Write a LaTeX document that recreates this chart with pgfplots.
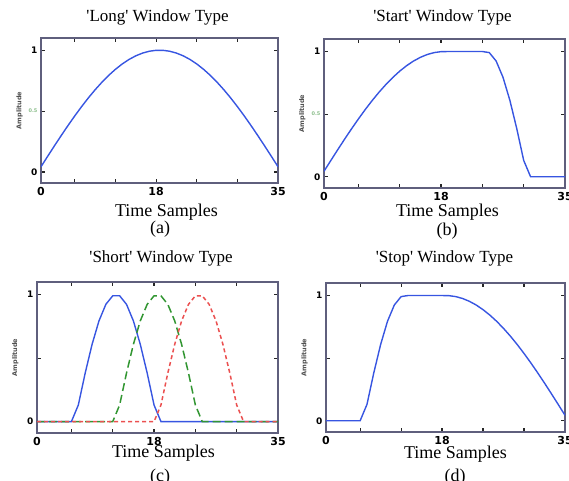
\documentclass[border=0pt]{standalone}
\usepackage{fontspec}
\setmainfont{Liberation Serif}[Ligatures=TeXOff]
\newfontfamily\tickfont{DejaVu Sans}
\usepackage{pgfplots}
\pgfplotsset{compat=1.18}

\definecolor{framec}{RGB}{95,95,125}
\definecolor{mblue}{RGB}{55,85,225}
\definecolor{mgreen}{RGB}{50,150,50}
\definecolor{mred}{RGB}{235,80,80}
\definecolor{faint}{RGB}{140,190,140}
\definecolor{ylab}{RGB}{80,80,80}

% one MATLAB-style window panel
\pgfplotsset{win/.style={
    scale only axis,
    xmin=0, xmax=35, ymin=-0.09, ymax=1.1,
    xtick={0,5,11,17,23,29,35},
    xticklabels={0,,,18,,,35},
    ytick={0,0.5,1},
    tick align=inside,
    major tick length=4pt,
    tick style={line width=1.2pt, color=black!85},
    axis line style={line width=1.6pt, color=framec},
    x tick label style={font=\tickfont\bfseries\fontsize{11}{11}\selectfont, yshift=-1pt},
    y tick label style={font=\tickfont\bfseries\fontsize{9}{9}\selectfont},
    ylabel={Amplitude},
    ylabel style={font=\tickfont\bfseries\fontsize{6.5}{7}\selectfont, color=ylab,
                  at={(axis description cs:-0.09,0.5)}, anchor=center},
    title style={font=\fontsize{17}{20}\selectfont, anchor=base, at={(0.5,1)}},
    xlabel={Time Samples},
    xlabel style={font=\fontsize{18}{20}\selectfont, anchor=base, at={(0.5,0)}},
  }}

\begin{document}
\begin{tikzpicture}
\path[use as bounding box] (0,0) rectangle (569pt,480pt);

% (a) Long
\begin{axis}[win, at={(41pt,297pt)}, anchor=south west, width=237pt, height=145pt,
    yticklabels={0,{\color{faint}\fontsize{5}{5}\selectfont 0.5},1},
    title={'Long' Window Type}, title style={yshift=10pt, xshift=-2pt},
    xlabel style={yshift=-33pt, xshift=7pt}]
\addplot[mblue, line width=1.4pt] coordinates {
(0,0.0436) (1,0.1305) (2,0.2164) (3,0.3007) (4,0.3827) (5,0.4617)
(6,0.5373) (7,0.6088) (8,0.6756) (9,0.7373) (10,0.7934) (11,0.8434)
(12,0.8870) (13,0.9239) (14,0.9537) (15,0.9763) (16,0.9914) (17,0.9990)
(18,0.9990) (19,0.9914) (20,0.9763) (21,0.9537) (22,0.9239) (23,0.8870)
(24,0.8434) (25,0.7934) (26,0.7373) (27,0.6756) (28,0.6088) (29,0.5373)
(30,0.4617) (31,0.3827) (32,0.3007) (33,0.2164) (34,0.1305) (35,0.0436)};
\end{axis}

% (b) Start
\begin{axis}[win, at={(324pt,292pt)}, anchor=south west, width=241pt, height=149pt,
    yticklabels={0,{\color{faint}\fontsize{5}{5}\selectfont 0.5},1},
    title={'Start' Window Type}, title style={yshift=11pt, xshift=-2pt},
    xlabel style={yshift=-28pt, xshift=3pt}]
\addplot[mblue, line width=1.4pt] coordinates {
(0,0.0436) (1,0.1305) (2,0.2164) (3,0.3007) (4,0.3827) (5,0.4617)
(6,0.5373) (7,0.6088) (8,0.6756) (9,0.7373) (10,0.7934) (11,0.8434)
(12,0.8870) (13,0.9239) (14,0.9537) (15,0.9763) (16,0.9914) (17,0.9990)
(18,1) (19,1) (20,1) (21,1) (22,1) (23,1)
(24,0.9914) (25,0.9239) (26,0.7934) (27,0.6088) (28,0.3827) (29,0.1305)
(30,0) (31,0) (32,0) (33,0) (34,0) (35,0)};
\end{axis}

% (c) Short
\begin{axis}[win, at={(37pt,47pt)}, anchor=south west, width=241pt, height=151pt,
    yticklabels={0,,1},
    title={'Short' Window Type}, title style={yshift=14pt, xshift=3.5pt},
    xlabel style={yshift=-24pt, xshift=6pt}]
\addplot[mblue, line width=1.4pt] coordinates {
(0,0) (1,0) (2,0) (3,0) (4,0) (5,0)
(6,0.1305) (7,0.3827) (8,0.6088) (9,0.7934) (10,0.9239) (11,0.9914)
(12,0.9914) (13,0.9239) (14,0.7934) (15,0.6088) (16,0.3827) (17,0.1305)
(18,0) (19,0) (20,0) (21,0) (22,0) (23,0) (24,0) (25,0) (26,0) (27,0)
(28,0) (29,0) (30,0) (31,0) (32,0) (33,0) (34,0) (35,0)};
\addplot[mgreen, line width=1.5pt, dash pattern=on 8pt off 4pt] coordinates {
(0,0) (1,0) (2,0) (3,0) (4,0) (5,0) (6,0) (7,0) (8,0) (9,0) (10,0) (11,0)
(12,0.1305) (13,0.3827) (14,0.6088) (15,0.7934) (16,0.9239) (17,0.9914)
(18,0.9914) (19,0.9239) (20,0.7934) (21,0.6088) (22,0.3827) (23,0.1305)
(24,0) (25,0) (26,0) (27,0) (28,0) (29,0) (30,0) (31,0) (32,0) (33,0)
(34,0) (35,0)};
\addplot[mred, line width=1.5pt, dash pattern=on 4pt off 3pt] coordinates {
(0,0) (1,0) (2,0) (3,0) (4,0) (5,0) (6,0) (7,0) (8,0) (9,0) (10,0) (11,0)
(12,0) (13,0) (14,0) (15,0) (16,0) (17,0)
(18,0.1305) (19,0.3827) (20,0.6088) (21,0.7934) (22,0.9239) (23,0.9914)
(24,0.9914) (25,0.9239) (26,0.7934) (27,0.6088) (28,0.3827) (29,0.1305)
(30,0) (31,0) (32,0) (33,0) (34,0) (35,0)};
\end{axis}

% (d) Stop
\begin{axis}[win, at={(326pt,48pt)}, anchor=south west, width=239pt, height=149pt,
    yticklabels={0,,1},
    title={'Stop' Window Type}, title style={yshift=15pt, xshift=-1pt},
    xlabel style={yshift=-26pt, xshift=10pt}]
\addplot[mblue, line width=1.4pt] coordinates {
(0,0) (1,0) (2,0) (3,0) (4,0) (5,0)
(6,0.1305) (7,0.3827) (8,0.6088) (9,0.7934) (10,0.9239) (11,0.9914)
(12,1) (13,1) (14,1) (15,1) (16,1) (17,1)
(18,0.9990) (19,0.9914) (20,0.9763) (21,0.9537) (22,0.9239) (23,0.8870)
(24,0.8434) (25,0.7934) (26,0.7373) (27,0.6756) (28,0.6088) (29,0.5373)
(30,0.4617) (31,0.3827) (32,0.3007) (33,0.2164) (34,0.1305) (35,0.0436)};
\end{axis}

\node[anchor=base, font=\fontsize{18}{20}\selectfont] at (160pt,247pt) {(a)};
\node[anchor=base, font=\fontsize{18}{20}\selectfont] at (447pt,245pt) {(b)};
\node[anchor=base, font=\fontsize{18}{20}\selectfont] at (160pt,-1pt) {(c)};
\node[anchor=base, font=\fontsize{18}{20}\selectfont] at (455pt,-1pt) {(d)};
\end{tikzpicture}
\end{document}
